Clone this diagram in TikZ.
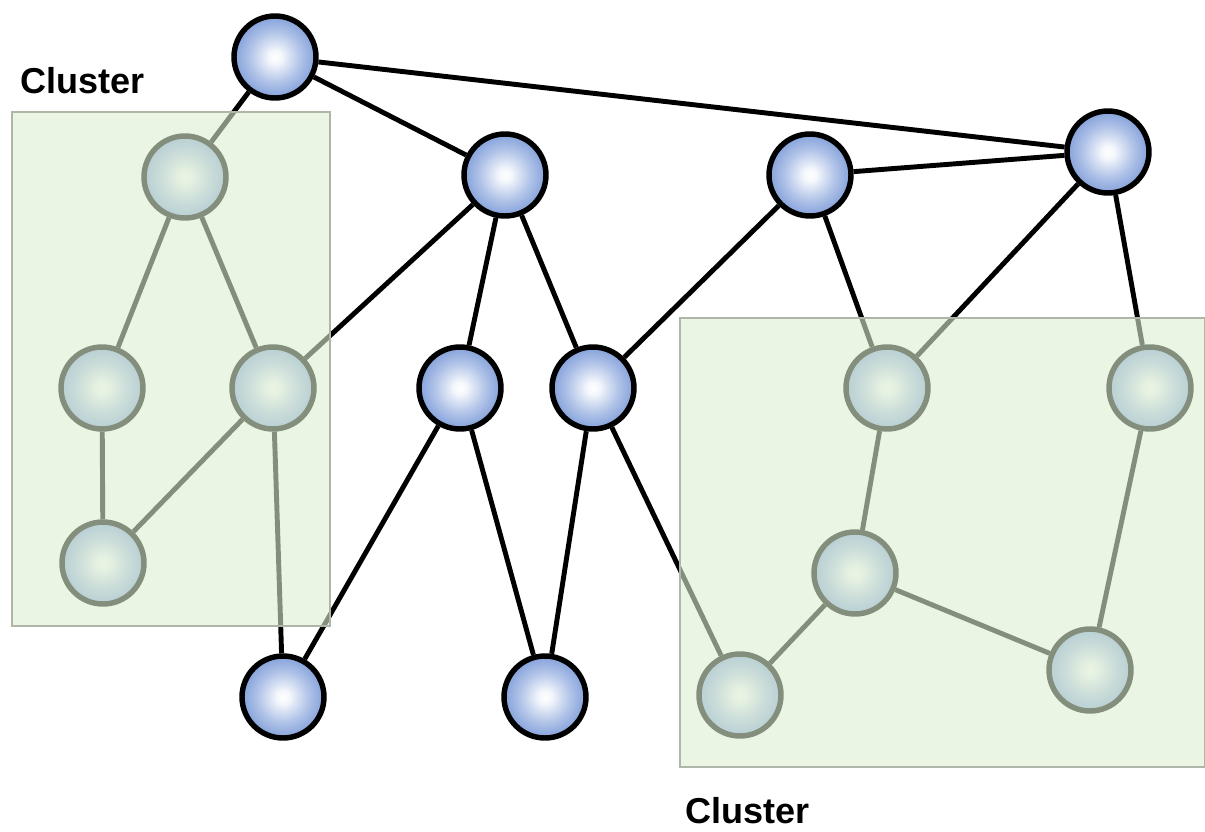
\documentclass[tikz,border=0pt]{standalone}
\usepackage{fontspec}
\setsansfont{Liberation Sans}
\usepackage{tikz}
\definecolor{nodeblue}{HTML}{7596D6}
\definecolor{clusterfill}{HTML}{DCEED0}
\definecolor{clusterline}{HTML}{AEB6AA}
\pgfdeclareradialshading{nodeball}{\pgfpoint{0bp}{0bp}}{color(0bp)=(white); color(4bp)=(white!92!nodeblue); color(15bp)=(white!45!nodeblue); color(28bp)=(nodeblue); color(50bp)=(nodeblue)}

\begin{document}
\begin{tikzpicture}[x=0.02cm,y=-0.02cm,line width=2.8pt,vtx/.style={circle,draw=black,line width=3.1pt,minimum size=1.64cm,inner sep=0pt,shading=nodeball},cl/.style={fill=clusterfill,fill opacity=0.6,draw=clusterline,line width=1.3pt},lab/.style={font=\sffamily\bfseries\fontsize{20.5}{24}\selectfont,anchor=base west,inner sep=0pt}]
\useasboundingbox (0,0) rectangle (1205,832);
\foreach \n/\x/\y in {t/275/57,a/505/175,b/810/175,c/1108/152,d/460/388,e/593/388,f/283/697,g/545/697,g1/185/177,g2/102/388,g3/273/388,g4/103/563,h1/887/388,h2/1150/388,h3/855/573,h4/1090/670,h5/740/695}{\node[vtx] (\n) at (\x,\y){};};
\foreach \u/\v in {t/g1,t/a,t/c,a/g3,a/d,a/e,b/c,b/e,b/h1,c/h1,c/h2,d/f,d/g,e/g,e/h5,g1/g2,g1/g3,g2/g4,g4/g3,g3/f,h1/h3,h3/h5,h3/h4,h2/h4}{\draw (\u)--(\v);};
\draw[cl] (12,112) rectangle (330,626);
\draw[cl] (680,318) rectangle (1205,767);
\node[lab] (l1) at (18,93) {Cluster};
\node[lab] (l2) at (683,823) {Cluster};
\end{tikzpicture}
\end{document}
